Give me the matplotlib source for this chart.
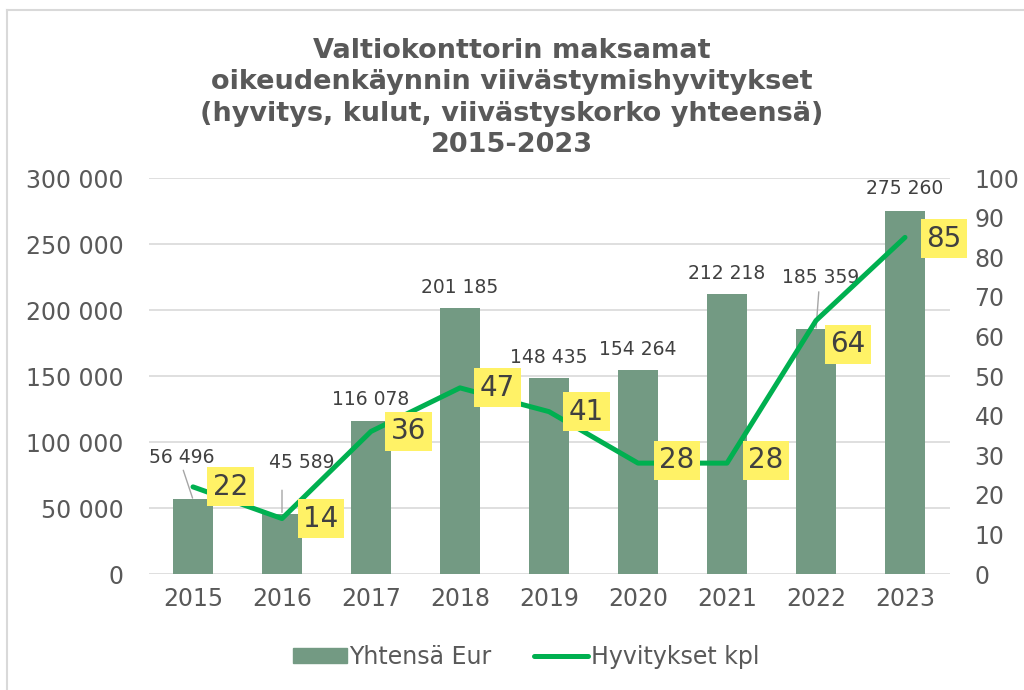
import matplotlib
matplotlib.use("Agg")
import matplotlib.pyplot as plt
from matplotlib.patches import Rectangle
from matplotlib.lines import Line2D

years = ["2015", "2016", "2017", "2018", "2019", "2020", "2021", "2022", "2023"]
eur = [56496, 45589, 116078, 201185, 148435, 154264, 212218, 185359, 275260]
kpl = [22, 14, 36, 47, 41, 28, 28, 64, 85]
left_ticks = [0, 50000, 100000, 150000, 200000, 250000, 300000]
right_ticks = list(range(0, 101, 10))
title = ("Valtiokonttorin maksamat\noikeudenkäynnin viivästymishyvitykset\n"
         "(hyvitys, kulut, viivästyskorko yhteensä)\n2015-2023")

def fmt(v):
    return f"{v:,}".replace(",", " ")

bar_color = "#739a83"
line_color = "#00b050"
text_color = "#595959"

plt.rcParams['font.family'] = ['DejaVu Sans']
fig = plt.figure(figsize=(10.24, 6.9), dpi=100)
ax = fig.add_axes([148.5/1024, 1 - 574/690, 801/1024, 396/690])
ax2 = ax.twinx()

x = list(range(len(years)))
ax.bar(x, eur, width=0.45, color=bar_color, zorder=2)
ax.set_ylim(0, 300000)
ax.set_xlim(-0.5, len(years) - 0.5)
ax.set_yticks(left_ticks)
ax.set_yticklabels([fmt(v) for v in left_ticks])
ax.set_xticks(x)
ax.set_xticklabels(years)
ax.grid(axis='y', color='#d9d9d9', linewidth=1.2, zorder=0)
ax.set_axisbelow(True)
for a in (ax, ax2):
    for s in a.spines.values():
        s.set_visible(False)
    a.tick_params(length=0, labelsize=17, colors=text_color)
ax.tick_params(axis='y', pad=18)
ax.tick_params(axis='x', pad=9)

ax2.plot(x, kpl, color=line_color, linewidth=3.6, solid_capstyle='round', zorder=3)
ax2.set_ylim(0, 100)
ax2.set_yticks(right_ticks)
ax2.tick_params(axis='y', pad=18)

# bar labels (offset in points: dx, dy) with leader lines where moved
bar_off = [(-8, 30), (14, 37), (0, 15), (0, 15), (0, 15), (0, 15), (0, 15), (3, 37), (0, 16)]
leader_start = [(-7, 21), (0, 17), None, None, None, None, None, (2, 27), None]
for i, v in enumerate(eur):
    dx, dy = bar_off[i]
    ax.annotate(fmt(v), (i, v), xytext=(dx, dy), textcoords='offset points',
                ha='center', va='center', fontsize=13.5, color='#404040', zorder=5)
    if leader_start[i] is not None:
        ax.annotate("", (i, v), xytext=leader_start[i], textcoords='offset points',
                    arrowprops=dict(arrowstyle='-', color='#a6a6a6', lw=1.0,
                                    shrinkA=0, shrinkB=1), zorder=4)

# line labels
line_off = [(27, 0), (28, 0), (27, 0), (27, 0), (27, 0), (28, 2), (28, 2), (23, -17), (28, -1)]
for i, v in enumerate(kpl):
    dx, dy = line_off[i]
    ax2.annotate(str(v), (i, v), xytext=(dx, dy), textcoords='offset points',
                 ha='center', va='center', fontsize=20, color='#404040', zorder=6,
                 bbox=dict(boxstyle='square,pad=0.2', fc='#fff266', ec='none'))

fig.text(0.5, 1 - 98/690, title, ha='center', va='center', fontsize=19.5,
         fontweight='bold', color=text_color, linespacing=1.28)

handles = [Rectangle((0, 0), 1, 1, color=bar_color),
           Line2D([0], [0], color=line_color, lw=3.6, solid_capstyle='round')]
fig.legend(handles, ["Yhtensä Eur", "Hyvitykset kpl"], loc='center',
           bbox_to_anchor=(526/1024, 1 - 657/690), ncol=2, frameon=False, fontsize=17,
           labelcolor=text_color, handlelength=2.3, handleheight=0.6,
           columnspacing=1.8, handletextpad=0.1)

# chart frame (only left and top edges visible in the crop)
fig.add_artist(Line2D([7/1024, 7/1024], [0, 1 - 10/690], transform=fig.transFigure,
                      color='#d9d9d9', lw=1.5))
fig.add_artist(Line2D([7/1024, 1], [1 - 10/690, 1 - 10/690], transform=fig.transFigure,
                      color='#d9d9d9', lw=1.5))

fig.savefig("out.png", dpi=100)
